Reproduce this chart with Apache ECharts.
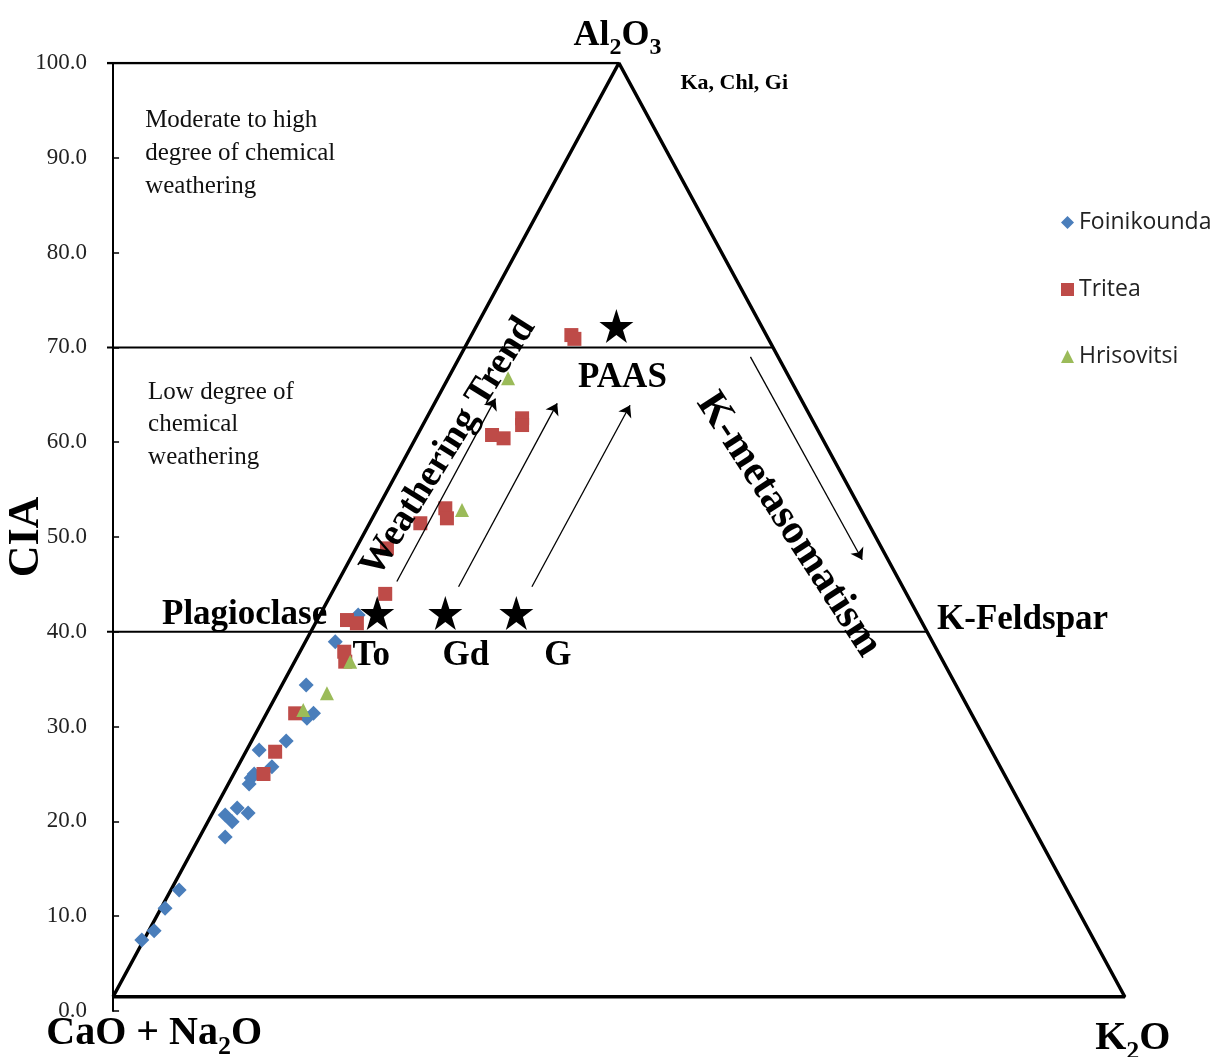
<!DOCTYPE html>
<html><head><meta charset="utf-8">
<script src="https://cdn.jsdelivr.net/npm/echarts@6/dist/echarts.min.js"></script>
<style>html,body{margin:0;padding:0;background:#fff}#chart{width:1229px;height:1057px}</style>
</head><body><div id="chart"></div>
<script>
// ---- data (x = ternary horizontal position, y = CIA) ----
const seriesNames = ['Foinikounda', 'Tritea', 'Hrisovitsi'];
const foinikounda = [[2.84,7.49],[4.06,8.47],[5.14,10.83],[6.53,12.76],[11.08,18.35],[11.08,20.68],[11.77,19.97],[12.27,21.41],[13.35,20.89],[13.45,23.95],[13.65,24.58],[13.95,25.0],[14.44,27.53],[15.7,25.77],[17.11,28.48],[19.16,30.88],[19.81,31.4],[19.09,34.39],[21.96,38.96],[24.23,41.77]];
const tritea = [[14.87,25.0],[16.02,27.35],[18.0,31.4],[22.95,36.85],[22.85,37.9],[23.12,41.24],[24.1,40.9],[26.9,44.0],[27.07,48.8],[30.37,51.45],[32.84,53.03],[33.0,51.97],[37.46,60.76],[38.6,60.41],[40.43,62.52],[40.43,61.81],[45.3,71.3],[45.6,70.9]];
const hrisovitsi = [[18.8,31.75],[21.14,33.51],[23.44,36.85],[34.49,52.85],[39.04,66.74]];
const refNames = ['To', 'Gd', 'G', 'PAAS'];
const refPoints = [[26.11,41.98],[32.84,41.98],[39.86,41.98],[49.75,72.26]];
const triangle = [[0,1.5],[50,100],[100,1.5],[0,1.5]];
const topLine = [[-0.6,100],[50,100]];
const line70 = [[-0.6,70],[65.23,70]];
const line40 = [[-0.6,40],[80.46,40]];
const arrows = [[[28.05,45.3],[37.8,64.6]],[[34.15,44.75],[43.9,64.1]],[[41.4,44.75],[51.1,63.9]],[[63.0,69.0],[74.05,47.6]]];
const yMin = 0, yMax = 100, yStep = 10;
const xMin = -0.6, xMax = 102;

const serif = 'Liberation Serif';
const colors = ['#4a7ebb', '#be4b48', '#9bbb59'];
const STAR = 'path://M50,0 L61.8,35.1 L98.9,35.1 L68.9,56.7 L80.3,91.9 L50,70.1 L19.7,91.9 L31.1,56.7 L1.1,35.1 L38.2,35.1 Z';

function ann(x, y, fmt, opts) {
  return { value: [x, y], label: Object.assign({ show: true, position: 'inside', formatter: fmt, fontFamily: serif, color: '#000', fontWeight: 'bold', fontSize: 35 }, opts || {}) };
}
function subRich(big, small, pad) {
  return {
    b: { fontFamily: serif, fontWeight: 'bold', fontSize: big, lineHeight: big, verticalAlign: 'top', color: '#000' },
    s: { fontFamily: serif, fontWeight: 'bold', fontSize: small, lineHeight: small, verticalAlign: 'top', padding: [pad, 0, 0, 0], color: '#000' }
  };
}
const annotations = [
  ann(49.85, 102.87, '{b|Al}{s|2}{b|O}{s|3}', { rich: subRich(36, 24, 18) }),
  ann(56.08, 97.9, 'Ka, Chl, Gi', { fontSize: 22, align: 'left' }),
  ann(3.17, 95.7, 'Moderate to high\ndegree of chemical\nweathering', { fontSize: 25, fontWeight: 'normal', lineHeight: 33, align: 'left', verticalAlign: 'top', color: '#111' }),
  ann(3.46, 66.98, 'Low degree of\nchemical\nweathering', { fontSize: 25, fontWeight: 'normal', lineHeight: 32.5, align: 'left', verticalAlign: 'top', color: '#111' }),
  ann(21.17, 41.8, 'Plagioclase', { align: 'right' }),
  ann(25.52, 37.45, 'To'),
  ann(34.87, 37.45, 'Gd'),
  ann(43.97, 37.45, 'G'),
  ann(50.35, 66.77, 'PAAS'),
  ann(89.9, 41.24, 'K-Feldspar'),
  ann(33.14, 59.5, 'Weathering Trend', { rotate: 58, fontSize: 38 }),
  ann(66.77, 51.3, 'K-metasomatism', { rotate: -57, fontSize: 42 }),
  ann(4.06, -2.36, '{b|CaO + Na}{s|2}{b|O}', { rich: subRich(40, 26, 21) }),
  ann(100.8, -2.89, '{b|K}{s|2}{b|O}', { rich: subRich(40, 26, 21) })
];

function lineSeries(data, width, extra) {
  return Object.assign({ type: 'line', data: data, symbol: 'none', silent: true, z: 1,
    lineStyle: { color: '#000', width: width }, animation: false }, extra || {});
}

const chart = echarts.init(document.getElementById('chart'), null, { renderer: 'canvas' });
chart.setOption({
  animation: false,
  backgroundColor: '#fff',
  grid: { left: 107, right: 84, top: 63, bottom: 46, containLabel: false, outerBoundsMode: 'none' },
  xAxis: { type: 'value', min: xMin, max: xMax, show: false },
  yAxis: {
    type: 'value', min: yMin, max: yMax, interval: yStep,
    name: 'CIA', nameLocation: 'middle', nameGap: 58, nameRotate: 90, nameMoveOverlap: false,
    nameTextStyle: { fontFamily: serif, fontWeight: 'bold', fontSize: 44, color: '#000' },
    axisLine: { show: true, lineStyle: { color: '#000', width: 2 } },
    axisTick: { show: true, inside: true, length: 6, lineStyle: { color: '#000', width: 1.5 } },
    axisLabel: { formatter: v => v.toFixed(1), fontFamily: serif, fontSize: 23, color: '#222', margin: 20 },
    splitLine: { show: false }
  },
  legend: {
    data: seriesNames, orient: 'vertical', left: 1056, top: 206,
    itemWidth: 13, itemHeight: 13, itemGap: 44,
    textStyle: { fontFamily: 'Open Sans', fontSize: 23, color: '#222', lineHeight: 22, padding: [0, 0, 0, 0] }
  },
  series: [
    lineSeries(triangle, 3.5, {
      markLine: {
        silent: true, symbol: ['none', 'arrow'], symbolSize: 11, label: { show: false },
        lineStyle: { color: '#000', width: 1.3, type: 'solid' },
        data: arrows.map(a => [{ coord: a[0] }, { coord: a[1] }])
      }
    }),
    lineSeries(topLine, 2.5),
    lineSeries(line70, 2),
    lineSeries(line40, 2),
    { name: seriesNames[0], type: 'scatter', data: foinikounda, symbol: 'diamond', symbolSize: 15, itemStyle: { color: colors[0], opacity: 1 }, z: 3 },
    { name: seriesNames[1], type: 'scatter', data: tritea, symbol: 'rect', symbolSize: 14, itemStyle: { color: colors[1], opacity: 1 }, z: 3 },
    { name: seriesNames[2], type: 'scatter', data: hrisovitsi, symbol: 'triangle', symbolSize: 14, itemStyle: { color: colors[2], opacity: 1 }, z: 3 },
    { name: 'Reference', type: 'scatter', data: refPoints.map((p, i) => ({ name: refNames[i], value: p })), symbol: STAR, symbolSize: 34, itemStyle: { color: '#000', opacity: 1 }, z: 4 },
    { name: 'annotations', type: 'scatter', data: annotations, symbolSize: 1, itemStyle: { color: 'rgba(0,0,0,0)', opacity: 1 }, clip: false, silent: true, z: 6 }
  ]
});
</script></body></html>
